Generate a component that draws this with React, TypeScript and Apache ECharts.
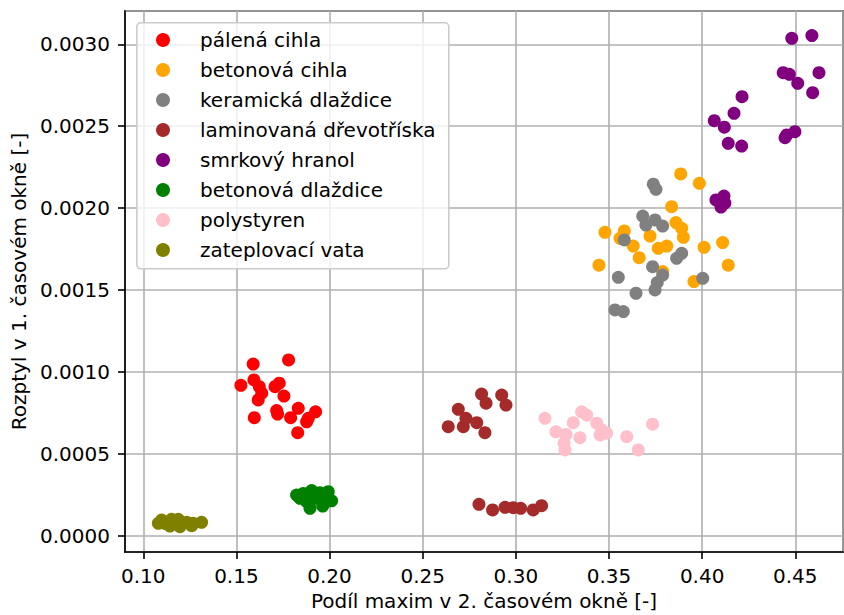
import React, { useEffect, useRef } from "react";
import * as echarts from "echarts";

const seriesNames = [
  "pálená cihla",
  "betonová cihla",
  "keramická dlaždice",
  "laminovaná dřevotříska",
  "smrkový hranol",
  "betonová dlaždice",
  "polystyren",
  "zateplovací vata",
];

const seriesColors = ["#ff0000", "#ffa500", "#808080", "#a52a2a", "#800080", "#008000", "#ffc0cb", "#808000"];

const palenaCihla = [
  [0.159, 0.001049], [0.178, 0.001074], [0.1524, 0.000919], [0.1594, 0.000952], [0.1623, 0.000911],
  [0.1636, 0.000871], [0.1617, 0.00083], [0.1707, 0.000911], [0.173, 0.000932], [0.1755, 0.000854],
  [0.1596, 0.000722], [0.1716, 0.000765], [0.1721, 0.000744], [0.1791, 0.000722], [0.1832, 0.000779],
  [0.1877, 0.000697], [0.1925, 0.000758], [0.1829, 0.00063], [0.1886, 0.000718],
];

const betonovaCihla = [
  [0.3885, 0.002209], [0.3985, 0.002152], [0.3836, 0.002009], [0.3859, 0.001912], [0.389, 0.001877],
  [0.3899, 0.001822], [0.3478, 0.001853], [0.3582, 0.001861], [0.3559, 0.001816], [0.372, 0.00183],
  [0.363, 0.001769], [0.3764, 0.001755], [0.381, 0.001769], [0.3662, 0.001698], [0.401, 0.001761],
  [0.411, 0.00179], [0.3446, 0.001652], [0.414, 0.001652], [0.3956, 0.001552], [0.3788, 0.001613],
];

const keramickaDlazdice = [
  [0.3738, 0.002146], [0.3752, 0.002115], [0.3681, 0.001952], [0.3698, 0.001897], [0.3747, 0.001928],
  [0.3788, 0.001891], [0.3582, 0.001806], [0.389, 0.001725], [0.3863, 0.001694], [0.3734, 0.001643],
  [0.3788, 0.001592], [0.3759, 0.001546], [0.3747, 0.001501], [0.355, 0.001578], [0.3645, 0.001481],
  [0.4003, 0.001572], [0.3532, 0.001379], [0.3577, 0.001369],
];

const laminovanaDrevotriska = [
  [0.2816, 0.000866], [0.284, 0.00081], [0.2924, 0.00086], [0.2947, 0.000799], [0.2691, 0.000773],
  [0.2732, 0.000718], [0.279, 0.000691], [0.2637, 0.000667], [0.2718, 0.000667], [0.2834, 0.00063],
  [0.2802, 0.000193], [0.2875, 0.000159], [0.2942, 0.000175], [0.2986, 0.000173], [0.3026, 0.000169],
  [0.3093, 0.000159], [0.3138, 0.000185],
];

const smrkovyHranol = [
  [0.4481, 0.003036], [0.4589, 0.003053], [0.4435, 0.002827], [0.4468, 0.002817], [0.4513, 0.002762],
  [0.4627, 0.002827], [0.4593, 0.002705], [0.4214, 0.00268], [0.4171, 0.002579], [0.4065, 0.002534],
  [0.4119, 0.002494], [0.414, 0.002396], [0.4212, 0.002379], [0.4445, 0.00243], [0.4498, 0.002467],
  [0.4454, 0.002447], [0.4074, 0.00205], [0.4117, 0.002074], [0.4101, 0.002007], [0.4122, 0.002031],
];

const betonovaDlazdice = [
  [0.1823, 0.00025], [0.1859, 0.00026], [0.1904, 0.000277], [0.1948, 0.000264], [0.1993, 0.00027],
  [0.2011, 0.000215], [0.1963, 0.000183], [0.1895, 0.000169], [0.1877, 0.000209], [0.1931, 0.00023],
  [0.1975, 0.00023], [0.1841, 0.00023],
];

const polystyren = [
  [0.3156, 0.000718], [0.3353, 0.000758], [0.338, 0.000738], [0.3308, 0.000691], [0.3215, 0.000636],
  [0.3269, 0.00062], [0.3344, 0.0006], [0.3264, 0.000525], [0.3434, 0.000688], [0.3461, 0.000647],
  [0.3452, 0.000616], [0.3487, 0.000627], [0.3595, 0.000606], [0.3734, 0.000682], [0.3657, 0.000525],
  [0.3259, 0.000566],
];

const zateplovaciVata = [
  [0.1081, 0.0000775], [0.1099, 0.0000976], [0.1152, 0.000102], [0.1188, 0.000102], [0.1233, 0.0000836],
  [0.1268, 0.0000775], [0.1313, 0.0000836], [0.1197, 0.0000567], [0.1143, 0.000061], [0.1116, 0.0000775],
  [0.126, 0.0000628],
];

const allData = [
  palenaCihla, betonovaCihla, keramickaDlazdice, laminovanaDrevotriska,
  smrkovyHranol, betonovaDlazdice, polystyren, zateplovaciVata,
];

const xTitle = "Podíl maxim v 2. časovém okně [-]";
const yTitle = "Rozptyl v 1. časovém okně [-]";

const FONT = "DejaVu Sans";

export default function App() {
  const ref = useRef<HTMLDivElement>(null);
  useEffect(() => {
    if (!ref.current) return;
    const chart = echarts.init(ref.current, null, { renderer: "svg" });
    const axisCommon = {
      axisLine: { show: true, onZero: false, lineStyle: { color: "#000", width: 1.6 } },
      axisTick: { show: true, inside: false, length: 7, lineStyle: { color: "#000", width: 1.6 } },
      splitLine: { show: true, lineStyle: { color: "#b0b0b0", width: 1.6 } },
      nameLocation: "middle" as const,
      nameTextStyle: { fontFamily: FONT, fontSize: 20, color: "#000" },
    };
    chart.setOption({
      animation: false,
      backgroundColor: "#fff",
      grid: {
        left: 125,
        right: 1,
        top: 11,
        bottom: 63,
        containLabel: false,
        outerBoundsMode: "none",
        show: true,
        borderColor: "#000",
        borderWidth: 1.6,
        backgroundColor: "transparent",
      },
      xAxis: {
        type: "value",
        min: 0.0902,
        max: 0.4756,
        splitNumber: 8,
        name: xTitle,
        nameGap: 39,
        ...axisCommon,
        axisLabel: {
          showMinLabel: false,
          showMaxLabel: false,
          margin: 14,
          fontFamily: FONT,
          fontSize: 20,
          color: "#000",
          formatter: (v: number) => v.toFixed(2),
        },
      },
      yAxis: {
        type: "value",
        min: -0.0000976,
        max: 0.003203,
        splitNumber: 6,
        name: yTitle,
        nameGap: 93,
        ...axisCommon,
        axisLabel: {
          showMinLabel: false,
          showMaxLabel: false,
          margin: 15,
          fontFamily: FONT,
          fontSize: 20,
          color: "#000",
          formatter: (v: number) => v.toFixed(4),
        },
      },
      legend: {
        data: seriesNames,
        orient: "vertical",
        left: 156,
        top: 25,
        padding: 0,
        itemGap: 0,
        itemWidth: 64,
        itemHeight: 14,
        icon: "circle",
        selectedMode: false,
        textStyle: { fontFamily: FONT, fontSize: 20, color: "#000", lineHeight: 30 },
        z: 10,
      },
      graphic: [
        {
          type: "rect",
          left: 136,
          top: 22,
          shape: { width: 312, height: 246, r: 4 },
          style: { fill: "rgba(255,255,255,0.8)", stroke: "#cccccc", lineWidth: 1.6 },
          z: 5,
        },
      ],
      series: seriesNames.map((name, i) => ({
        name,
        type: "scatter",
        data: allData[i],
        symbol: "circle",
        symbolSize: 13,
        itemStyle: { color: seriesColors[i], opacity: 1 },
        emphasis: { disabled: true },
      })),
    });
    return () => chart.dispose();
  }, []);
  return (
    <div
      ref={ref}
      style={{ position: "fixed", left: 0, top: 0, width: 844, height: 615, background: "#fff" }}
    />
  );
}
